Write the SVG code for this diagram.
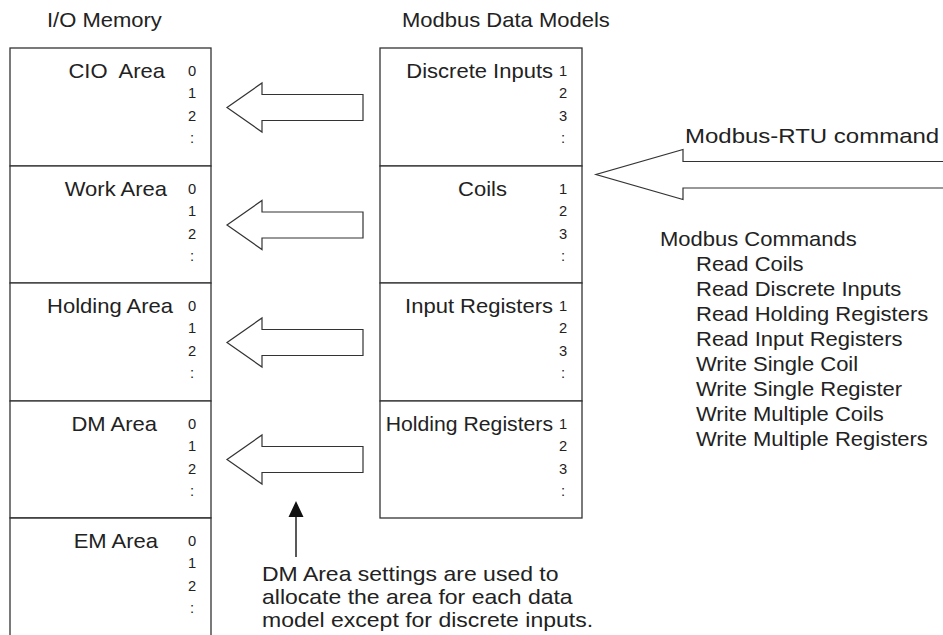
<svg xmlns="http://www.w3.org/2000/svg" width="943" height="635" viewBox="0 0 943 635">
<style>
.bx{fill:#fff;stroke:#333;stroke-width:1.3}
.ar{fill:#fff;stroke:#333;stroke-width:1.2;stroke-linejoin:miter}
.t{font-family:"Liberation Sans",Arial,sans-serif;font-size:20px;fill:#222}
.d{font-family:"Liberation Sans",Arial,sans-serif;font-size:14px;fill:#222;text-anchor:middle}
.e{text-anchor:end}
</style>
<defs>
<g id="nl">
<text class="d" transform="translate(0,76) scale(1.05,1)">0</text>
<text class="d" transform="translate(0,98) scale(1.05,1)">1</text>
<text class="d" transform="translate(0,121) scale(1.05,1)">2</text>
<text class="d" transform="translate(0,143) scale(1.05,1)">:</text>
</g>
<g id="nr">
<text class="d" transform="translate(0,76) scale(1.05,1)">1</text>
<text class="d" transform="translate(0,98) scale(1.05,1)">2</text>
<text class="d" transform="translate(0,121) scale(1.05,1)">3</text>
<text class="d" transform="translate(0,143) scale(1.05,1)">:</text>
</g>
<path id="sa" class="ar" d="M227,107.5 L262,83 L262,94.5 L363,94.5 L363,120.5 L262,120.5 L262,132 Z"/>
</defs>
<text class="t" transform="translate(47,27) scale(1.1,1)">I/O Memory</text>
<text class="t" transform="translate(402,27) scale(1.1,1)">Modbus Data Models</text>

<g id="cio">
<rect class="bx" x="10" y="48" width="201" height="118"/>
<text class="t e" xml:space="preserve" transform="translate(165,78) scale(1.1,1)">CIO  Area</text>
<use href="#nl" x="192" y="0"/>
</g>
<g id="work">
<rect class="bx" x="10" y="166" width="201" height="117"/>
<text class="t e" transform="translate(167,196) scale(1.1,1)">Work Area</text>
<use href="#nl" x="192" y="118"/>
</g>
<g id="holding">
<rect class="bx" x="10" y="283" width="201" height="118"/>
<text class="t e" transform="translate(173,313) scale(1.1,1)">Holding Area</text>
<use href="#nl" x="192" y="235"/>
</g>
<g id="dm">
<rect class="bx" x="10" y="401" width="201" height="117"/>
<text class="t e" transform="translate(157,431) scale(1.1,1)">DM Area</text>
<use href="#nl" x="192" y="353"/>
</g>
<g id="em">
<path class="bx" d="M10,640 V518 H211 V640"/>
<text class="t e" transform="translate(158,548) scale(1.1,1)">EM Area</text>
<use href="#nl" x="192" y="470"/>
</g>

<g id="discrete">
<rect class="bx" x="380" y="48" width="202" height="118"/>
<text class="t e" transform="translate(553,78) scale(1.1,1)">Discrete Inputs</text>
<use href="#nr" x="563" y="0"/>
</g>
<g id="coils">
<rect class="bx" x="380" y="166" width="202" height="117"/>
<text class="t e" transform="translate(507,196) scale(1.1,1)">Coils</text>
<use href="#nr" x="563" y="118"/>
</g>
<g id="inputreg">
<rect class="bx" x="380" y="283" width="202" height="118"/>
<text class="t e" transform="translate(553,313) scale(1.1,1)">Input Registers</text>
<use href="#nr" x="563" y="235"/>
</g>
<g id="holdingreg">
<rect class="bx" x="380" y="401" width="202" height="117"/>
<text class="t e" transform="translate(553,431) scale(1.06,1)">Holding Registers</text>
<use href="#nr" x="563" y="353"/>
</g>

<g id="commands">
<text class="t" transform="translate(685,143) scale(1.2,1)">Modbus-RTU command</text>
<text class="t" transform="translate(660,246) scale(1.1,1)">Modbus Commands</text>
<text class="t" transform="translate(696,271) scale(1.1,1)">Read Coils</text>
<text class="t" transform="translate(696,296) scale(1.1,1)">Read Discrete Inputs</text>
<text class="t" transform="translate(696,321) scale(1.1,1)">Read Holding Registers</text>
<text class="t" transform="translate(696,346) scale(1.1,1)">Read Input Registers</text>
<text class="t" transform="translate(696,371) scale(1.1,1)">Write Single Coil</text>
<text class="t" transform="translate(696,396) scale(1.1,1)">Write Single Register</text>
<text class="t" transform="translate(696,421) scale(1.1,1)">Write Multiple Coils</text>
<text class="t" transform="translate(696,446) scale(1.1,1)">Write Multiple Registers</text>
</g>

<g id="note">
<text class="t" transform="translate(262,581) scale(1.15,1)">DM Area settings are used to</text>
<text class="t" transform="translate(262,604) scale(1.15,1)">allocate the area for each data</text>
<text class="t" transform="translate(262,627) scale(1.15,1)">model except for discrete inputs.</text>
</g>

<g id="connectors">
<use href="#sa"/>
<use href="#sa" y="117.5"/>
<use href="#sa" y="235"/>
<use href="#sa" y="352"/>
<path class="ar" d="M950,161.5 H683 V149.5 L596,174.5 L683,199.5 V188 H950"/>
<line x1="296" y1="514" x2="296" y2="557" stroke="#222" stroke-width="1.5"/>
<polygon points="296,501 288.5,517 303.5,517" fill="#111"/>
</g>
</svg>
